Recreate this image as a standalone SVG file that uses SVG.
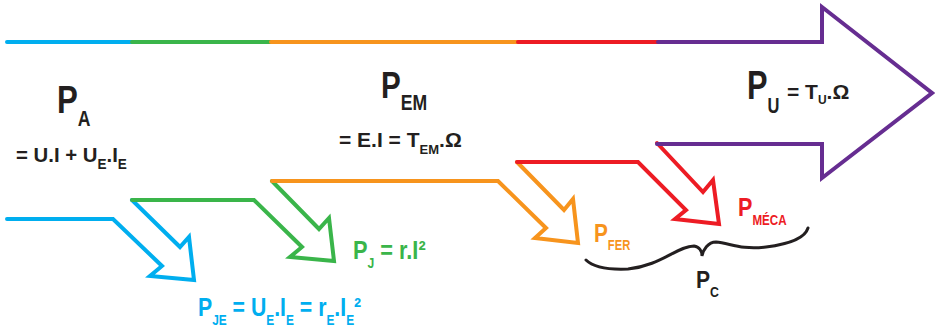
<svg xmlns="http://www.w3.org/2000/svg" width="935" height="327" viewBox="0 0 935 327">
<style>
.l{fill:none;stroke-width:4;stroke-linejoin:miter;stroke-linecap:round}
.t{font-family:"Liberation Sans",Arial,sans-serif;font-weight:bold}
.k{fill:#231F20}
.bl{stroke:#00AEEF}.gr{stroke:#3AB54A}.or{stroke:#F7941D}.rd{stroke:#ED1C24}.pu{stroke:#662D91}
</style>
<rect width="935" height="327" fill="#fff"/>
<g id="connectors">
<path class="l bl" d="M7,42H132 M7,219H113L162,266L150,276L194,280L189,237L180,247L132,200"/>
<path class="l gr" d="M132,42H271 M132,200H254L302,247L290,257L334,261L329,218L319,229L272,181"/>
<path class="l or" d="M271,42H518 M272,181H498L546,228L535,238L578,243L573,199L564,210L517,162"/>
<path class="l rd" d="M518,42H658 M517,162H638L686,210L675,219L719,224L713,180L703,192L657,143"/>
<path class="l pu" d="M658,42H822V7L932,93L822,178V144H657"/>
<path fill="none" stroke="#231F20" stroke-width="3" stroke-linecap="round" d="M586,260C592,266 605,270 628,269C660,266 678,246 694,246C700,247 702,252 702,256C703,250 708,242 716,242C730,243 740,250 766,247C790,244 805,238 808,228"/>
</g>
<g id="PA" class="t k">
<text transform="translate(57,113) scale(0.8,1)" font-size="39">P<tspan font-size="22" dy="13">A</tspan></text>
<text transform="translate(16,162) scale(0.97,1)" font-size="21">= U.I + U<tspan font-size="14" dy="7">E</tspan><tspan dy="-7">.I</tspan><tspan font-size="14" dy="7">E</tspan></text>
</g>
<g id="PEM" class="t k">
<text transform="translate(381,98) scale(0.8,1)" font-size="37">P<tspan font-size="22" dy="12">EM</tspan></text>
<text transform="translate(339,147)" font-size="21">= E.I = T<tspan font-size="13" dy="7">EM</tspan><tspan dy="-7">.Ω</tspan></text>
</g>
<g id="PU" class="t k">
<text transform="translate(747,99) scale(0.75,1)" font-size="41">P<tspan font-size="22" dy="14">U</tspan></text>
<text transform="translate(787,99)" font-size="21">= T<tspan font-size="12" dy="5">U</tspan><tspan dy="-5">.Ω</tspan></text>
</g>
<g id="PJ" class="t" fill="#3AB54A">
<text transform="translate(353,259) scale(0.87,1)" font-size="25">P<tspan font-size="14" dy="9">J</tspan><tspan dy="-9"> = r.I²</tspan></text>
</g>
<g id="PJE" class="t" fill="#00AEEF">
<text transform="translate(198,316) scale(0.85,1)" font-size="25">P<tspan font-size="14" dy="9">JE</tspan><tspan dy="-9"> = U</tspan><tspan font-size="14" dy="9">E</tspan><tspan dy="-9">.I</tspan><tspan font-size="14" dy="9">E</tspan><tspan dy="-9"> = r</tspan><tspan font-size="14" dy="9">E</tspan><tspan dy="-9">.I</tspan><tspan font-size="14" dy="9">E</tspan><tspan dy="-9">²</tspan></text>
</g>
<g id="PFER" class="t" fill="#F7941D">
<text transform="translate(594,242) scale(0.8,1)" font-size="26">P<tspan font-size="14" dy="8">FER</tspan></text>
</g>
<g id="PMECA" class="t" fill="#ED1C24">
<text transform="translate(738,216) scale(0.83,1)" font-size="26">P<tspan font-size="14" dy="9">MÉCA</tspan></text>
</g>
<g id="PC" class="t k">
<text transform="translate(696,288) scale(0.88,1)" font-size="24">P<tspan font-size="14" dy="9">C</tspan></text>
</g>
</svg>
